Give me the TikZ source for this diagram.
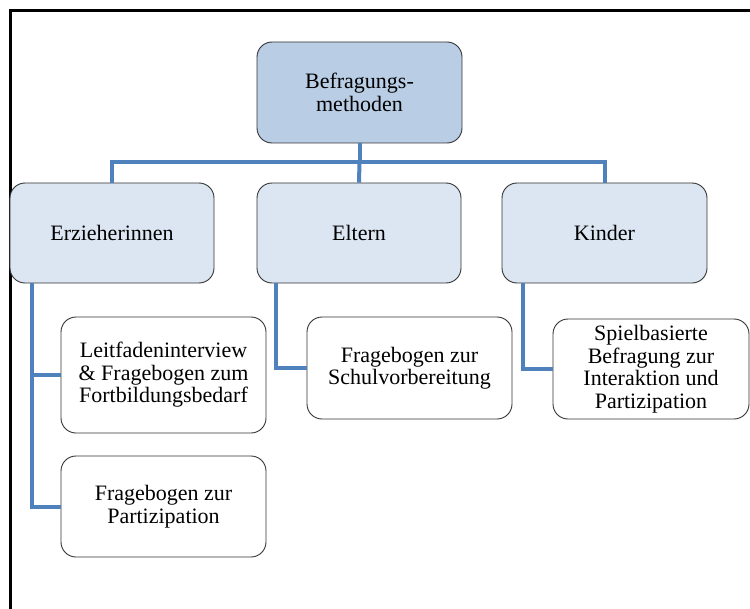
\documentclass[tikz,border=0pt]{standalone}
\usepackage{fontspec}
\setmainfont{Liberation Serif}
\newfontfamily\boxfont{Liberation Serif}
\usepackage{xcolor}
\usepackage{tikz}
\usetikzlibrary{positioning}
\definecolor{rootfill}{HTML}{B9CDE5}
\definecolor{groupfill}{HTML}{DCE6F2}
\definecolor{linkblue}{HTML}{4F81BD}

\begin{document}
\begin{tikzpicture}[x=1bp, y=-1bp,
  box/.style={draw=black!80, line width=0.9bp, rounded corners=15bp, align=center,
    inner sep=2bp, font=\boxfont\fontsize{22bp}{22.5bp}\selectfont},
  link/.style={draw=linkblue, line width=4bp, line join=miter}]
\useasboundingbox (0, 0) rectangle (750, 609);
\draw[line width=3bp] (10.5, 609) -- (10.5, 10.5) -- (750, 10.5);

\node[box, fill=rootfill, minimum width=205bp, minimum height=101bp] (root) at (359.5, 92.5) {Befragungs-\\methoden};
\node[box, fill=groupfill, minimum width=204bp, minimum height=100bp] (erz) at (112, 233) {Erzieherinnen};
\node[box, fill=groupfill, minimum width=204bp, minimum height=100bp] (elt) at (359, 233) {Eltern};
\node[box, fill=groupfill, minimum width=205bp, minimum height=100bp] (kin) at (604.5, 233) {Kinder};

\node[box, fill=white, minimum width=205bp, minimum height=116bp] (leit) at (163.5, 375) {Leitfadeninterview\\\& Fragebogen zum\\Fortbildungsbedarf};
\node[box, fill=white, minimum width=205bp, minimum height=101bp] (part) at (163.5, 506.5) {Fragebogen zur\\Partizipation};
\node[box, fill=white, minimum width=205bp, minimum height=102bp] (schul) at (409.5, 368) {Fragebogen zur\\Schulvorbereitung};
\node[box, fill=white, minimum width=196bp, minimum height=100bp] (spiel) at (651, 369) {Spielbasierte\\Befragung zur\\Interaktion und\\Partizipation};

\coordinate (bar) at (359, 162);
\draw[link] (root.south) -- (root.south |- bar) -| (erz.north);
\draw[link] (root.south |- bar) -| (kin.north);
\draw[link] (root.south |- bar) -- (elt.north);

\draw[link] ([xshift=22bp]erz.south west) |- (leit.west);
\draw[link] ([xshift=22bp]erz.south west) |- (part.west);
\draw[link] ([xshift=19bp]elt.south west) |- (schul.west);
\draw[link] ([xshift=21bp]kin.south west) |- (spiel.west);
\end{tikzpicture}
\end{document}
